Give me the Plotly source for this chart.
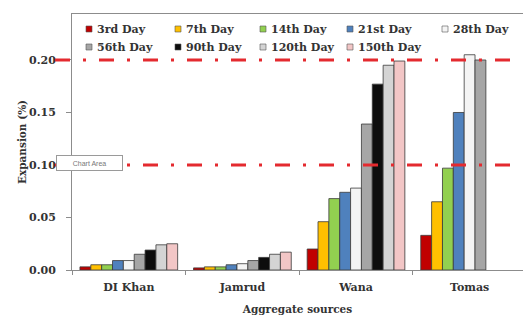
import plotly.graph_objects as go

categories = ["DI Khan", "Jamrud", "Wana", "Tomas"]
days = ["3rd Day", "7th Day", "14th Day", "21st Day", "28th Day",
        "56th Day", "90th Day", "120th Day", "150th Day"]

# expansion (%) per aggregate source, one list per day (order of categories)
day_3 = [0.003, 0.002, 0.020, 0.033]
day_7 = [0.005, 0.003, 0.046, 0.065]
day_14 = [0.005, 0.003, 0.068, 0.097]
day_21 = [0.009, 0.005, 0.074, 0.150]
day_28 = [0.009, 0.006, 0.078, 0.205]
day_56 = [0.015, 0.009, 0.139, 0.200]
day_90 = [0.019, 0.012, 0.177, None]
day_120 = [0.024, 0.015, 0.195, None]
day_150 = [0.025, 0.017, 0.199, None]
series = [day_3, day_7, day_14, day_21, day_28, day_56, day_90, day_120, day_150]

colors = ["#C00000", "#FFC000", "#92D050", "#4F81BD", "#F4F4F4",
          "#A6A6A6", "#0D0D0D", "#D4D4D4", "#F2C6C6"]

limit_lines = [0.20, 0.10]
y_ticks = [0.00, 0.05, 0.10, 0.15, 0.20]

FONT = "DejaVu Serif"
TXT = "#333333"

# figure geometry (pixels) used only to place legend / note elements
W, H = 523, 320
ML, MR, MT, MB = 72, 0, 14, 50
PW, PH = W - ML - MR, H - MT - MB


def px(xp):
    return (xp - ML) / PW


def py(yp):
    return (H - MB - yp) / PH


fig = go.Figure()
for name, vals, col in zip(days, series, colors):
    fig.add_trace(go.Bar(
        x=categories, y=vals, name=name, showlegend=False,
        marker=dict(color=col, line=dict(color="#3a3a3a", width=0.8)),
    ))

for v in limit_lines:
    fig.add_shape(type="line", xref="paper", yref="y",
                  x0=px(55), x1=1.0, y0=v, y1=v,
                  line=dict(color="#E42A2F", width=3, dash="15px,13px,3px,13px"),
                  layer="above")

# legend laid out like the original (2 rows, fixed columns)
leg_cols = [89, 178, 263, 350, 445]
leg_rows = [29, 47]
for i, (name, col) in enumerate(zip(days, colors)):
    r, c = divmod(i, 5)
    mx, my = leg_cols[c], leg_rows[r]
    fig.add_shape(type="rect", xref="paper", yref="paper",
                  x0=px(mx - 3), x1=px(mx + 3), y0=py(my + 3), y1=py(my - 3),
                  fillcolor=col, line=dict(color="#555555", width=0.6), layer="above")
    fig.add_annotation(xref="paper", yref="paper", x=px(mx + 6), y=py(my),
                       xanchor="left", yanchor="middle", text=name, showarrow=False,
                       font=dict(family=FONT, size=11, color=TXT, weight="bold"))

fig.add_annotation(xref="paper", yref="paper", x=px(56), y=py(162.5),
                   xanchor="left", yanchor="middle", text="Chart Area",
                   showarrow=False, font=dict(family="Liberation Sans", size=7, color="#777777"),
                   bgcolor="white", bordercolor="#9a9a9a", borderwidth=1,
                   width=63, height=12, align="center")

fig.update_layout(
    width=W, height=H,
    margin=dict(l=ML, r=MR, t=MT, b=MB),
    paper_bgcolor="white", plot_bgcolor="white",
    barmode="group", bargap=0.14, bargroupgap=0,
    showlegend=False,
    font=dict(family=FONT, size=11, color=TXT),
    xaxis=dict(range=[-0.5, 3.47], showline=True, linecolor="#8c8c8c", linewidth=1,
               mirror=True, ticks="outside", ticklen=4, tickcolor="#8c8c8c",
               tickson="boundaries", showgrid=False, ticklabelstandoff=7,
               tickfont=dict(family=FONT, size=11, color=TXT, weight="bold"),
               title=dict(text="Aggregate sources", standoff=12,
                          font=dict(family=FONT, size=10.5, color=TXT, weight="bold"))),
    yaxis=dict(range=[0, 0.2438], showline=True, linecolor="#8c8c8c", linewidth=1,
               ticks="outside", ticklen=5, tickcolor="#8c8c8c", showgrid=False,
               zeroline=False, tickvals=y_ticks, tickformat=".2f",
               ticklabelstandoff=8,
               tickfont=dict(family=FONT, size=11, color=TXT, weight="bold"),
               title=dict(text="Expansion (%)", standoff=0,
                          font=dict(family=FONT, size=10.5, color=TXT, weight="bold"))),
)

fig.write_html("out.html", config={"displayModeBar": False},
               post_script="document.body.style.margin='0';document.body.style.overflow='hidden';")
